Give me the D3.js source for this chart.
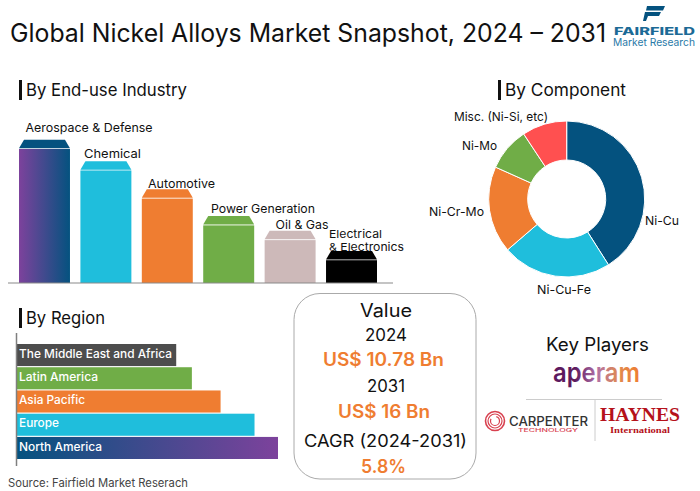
<!DOCTYPE html>
<html>
<head>
  <meta charset="utf-8">
  <script src="https://cdn.jsdelivr.net/npm/d3@7"></script>
  <style>
    html, body { margin: 0; padding: 0; background: #fff; }
    svg { display: block; }
    text { font-family: "Inter", "DejaVu Sans", sans-serif; fill: #111; }
  </style>
</head>
<body>
<script>
// chart values
var industries = ["Aerospace & Defense", "Chemical", "Automotive", "Power Generation", "Oil & Gas", "Electrical & Electronics"];
var industryValues = [100, 84, 63, 43, 32, 17];

var components = ["Ni-Cu", "Ni-Cu-Fe", "Ni-Cr-Mo", "Ni-Mo", "Misc. (Ni-Si, etc)"];
var componentValues = [41, 22.7, 18, 9, 9.3];

var regions = ["The Middle East and Africa", "Latin America", "Asia Pacific", "Europe", "North America"];
var regionValues = [61, 67, 78, 91, 100];

var width = 700, height = 491;
var navy = "#04527f", purple = "#7d429c", cyan = "#1fbedc", orange = "#ef7d31",
    green = "#70ad47", rose = "#cdb9b9", red = "#ff5050", slate = "#4d4d4d";

var svg = d3.select("body").append("svg")
  .attr("width", width)
  .attr("height", height);

var defs = svg.append("defs");
function gradient(id, stops) {
  var g = defs.append("linearGradient").attr("id", id);
  stops.forEach(function (s, i) {
    g.append("stop").attr("offset", i / (stops.length - 1)).attr("stop-color", s);
  });
}
gradient("purpleNavy", [purple, navy]);
gradient("navyPurple", [navy, purple]);
gradient("aperam", ["#5c1a5e", "#5c1a5e", "#b070a8", "#e08a50", "#ef7d31"]);

// text squeezed to the width it has in the picture
function label(str, x, y, w, size, opts) {
  opts = opts || {};
  return svg.append("text")
    .attr("x", x).attr("y", y)
    .attr("textLength", w)
    .attr("lengthAdjust", "spacingAndGlyphs")
    .style("font-size", size + "px")
    .style("font-weight", opts.weight || 400)
    .style("font-family", opts.family || null)
    .style("fill", opts.fill || null)
    .text(str);
}

// two stacked lines kept in one text element
function twoLines(a, b) {
  var t = svg.append("text");
  [a, b].forEach(function (l) {
    t.append("tspan")
      .attr("x", l.x).attr("y", l.y)
      .attr("textLength", l.w)
      .attr("lengthAdjust", "spacingAndGlyphs")
      .style("font-size", l.size + "px")
      .style("font-weight", l.weight || 400)
      .style("font-family", l.family || null)
      .style("fill", l.fill || null)
      .text(l.str);
  });
}

function heading(str, x, y, w) {
  svg.append("rect").attr("x", x).attr("y", y - 16).attr("width", 3).attr("height", 20).attr("fill", "#111");
  label(str, x + 7, y, w, 17);
}

label("Global Nickel Alloys Market Snapshot, 2024 \u2013 2031", 10, 42, 596, 25);

// logo, top right
svg.append("path")
  .attr("d", "M647 6H665L663 10.5H646ZM645 12H661L659 16H648L646 21H643Z")
  .attr("fill", navy);
twoLines(
  { str: "FAIRFIELD", x: 614, y: 35, w: 81, size: 10, weight: 800, fill: "#1c6a96" },
  { str: "Market Research", x: 613, y: 46, w: 82, size: 10.5, fill: "#2a7aa8" }
);

/* By End-use Industry */
heading("By End-use Industry", 19, 96, 161);

var x = d3.scaleBand().domain(industries).range([19, 377]).paddingInner(0.17).paddingOuter(0);
var y = d3.scaleLinear().domain([0, 100]).range([283, 149]);
var industryFill = ["url(#purpleNavy)", cyan, orange, green, rose, "#000"];
var capFill = [navy, cyan, orange, green, rose, "#000"];

svg.selectAll(".bar")
  .data(industries)
  .enter().append("rect")
  .attr("class", "bar")
  .attr("x", function (d) { return x(d); })
  .attr("y", function (d, i) { return y(industryValues[i]); })
  .attr("width", x.bandwidth())
  .attr("height", function (d, i) { return y(0) - y(industryValues[i]); })
  .attr("fill", function (d, i) { return industryFill[i]; });

// bevelled top of each bar
svg.selectAll(".cap")
  .data(industries)
  .enter().append("path")
  .attr("class", "cap")
  .attr("d", function (d, i) {
    var l = x(d), r = l + x.bandwidth(), b = y(industryValues[i]) - 0.8, t = b - 8.5;
    return "M" + l + " " + b + "L" + (l + 5) + " " + t + "H" + (r - 5) + "L" + r + " " + b + "Z";
  })
  .attr("fill", function (d, i) { return capFill[i]; });

svg.append("line").attr("x1", 8).attr("x2", 393).attr("y1", 283).attr("y2", 283)
  .attr("stroke", "#8a8a8a").attr("stroke-width", 1.2);

label(industries[0], 25.5, 132, 127, 12);
label(industries[1], 84, 158, 57, 12);
label(industries[2], 148, 188, 67, 12);
label(industries[3], 211, 213, 104, 12);
label(industries[4], 275.5, 229, 53, 12);
twoLines(
  { str: "Electrical", x: 329, y: 237.5, w: 53, size: 11 },
  { str: "& Electronics", x: 329, y: 251, w: 75, size: 11 }
);

/* By Component */
heading("By Component", 498, 96, 121);

var componentFill = [navy, cyan, orange, green, red];
var pie = d3.pie().sort(null);
var arc = d3.arc().innerRadius(39).outerRadius(78);

svg.append("g")
  .attr("transform", "translate(566.7,199)")
  .selectAll("path")
  .data(pie(componentValues))
  .enter().append("path")
  .attr("d", arc)
  .attr("fill", function (d, i) { return componentFill[i]; })
  .attr("stroke", "#fff")
  .attr("stroke-width", 1);

label(components[0], 645, 225, 34, 12);
label(components[1], 537, 294, 54, 12);
label(components[2], 429, 216, 55, 12);
label(components[3], 462, 150, 35, 12);
label(components[4], 454, 121, 94, 12);

/* By Region */
heading("By Region", 19, 324, 79);

var rx = d3.scaleLinear().domain([0, 100]).range([17, 278]);
var ry = d3.scaleBand().domain(regions).range([344, 459]).paddingInner(0.05);
var regionFill = [slate, green, orange, cyan, "url(#navyPurple)"];

svg.selectAll(".region")
  .data(regions)
  .enter().append("rect")
  .attr("class", "region")
  .attr("x", rx(0))
  .attr("y", function (d) { return ry(d); })
  .attr("width", function (d, i) { return rx(regionValues[i]) - rx(0); })
  .attr("height", ry.bandwidth())
  .attr("fill", function (d, i) { return regionFill[i]; });

svg.append("line").attr("x1", 16.5).attr("x2", 16.5).attr("y1", 333).attr("y2", 466)
  .attr("stroke", "#7f7f7f").attr("stroke-width", 1.5);

var white = { fill: "#fff", weight: 500 };
label(regions[0], 19, 358, 153, 12, white);
label(regions[1], 19, 381, 79, 12, white);
label(regions[2], 19, 404, 66, 12, white);
label(regions[3], 19, 427, 40, 12, white);
label(regions[4], 19, 451, 83, 12, white);

label("Source: Fairfield Market Reserach", 8, 487, 180, 11.5, { fill: "#444" });

/* Value panel */
svg.append("rect")
  .attr("x", 294).attr("y", 293.5).attr("width", 182).attr("height", 185.5)
  .attr("rx", 26).attr("fill", "#fff").attr("stroke", "#aaa");

var strong = { weight: 600, fill: orange };
label("Value", 360, 317, 52, 18);
label("2024", 365, 341, 42, 17);
label("US$ 10.78 Bn", 323, 366, 121, 18, strong);
label("2031", 367, 392, 38, 17);
label("US$ 16 Bn", 338, 418, 92, 18, strong);
label("CAGR (2024-2031)", 304, 447, 163, 17);
label("5.8%", 361, 473, 45, 18, strong);

/* Key players */
label("Key Players", 546, 351, 103, 18);
label("aperam", 553, 382, 87, 27, { weight: 600, fill: "url(#aperam)" });

svg.append("line").attr("x1", 526).attr("x2", 662).attr("y1", 399.5).attr("y2", 399.5).attr("stroke", "#ccc");
svg.append("line").attr("x1", 595).attr("x2", 595).attr("y1", 400).attr("y2", 441).attr("stroke", "#ccc");

// carpenter rings
[9.5, 7, 4.5].forEach(function (r, i) {
  svg.append("circle").attr("cx", 495).attr("cy", 421).attr("r", r)
    .attr("fill", "none").attr("stroke", "#d8404f").attr("stroke-width", i == 0 ? 1.6 : 1.2)
    .attr("stroke-dasharray", i == 2 ? "16 6" : null);
});
twoLines(
  { str: "CARPENTER", x: 509, y: 426, w: 79, size: 12.5, weight: 500, fill: "#333" },
  { str: "TECHNOLOGY", x: 518, y: 432, w: 60, size: 4.5, weight: 500, fill: "#d8404f" }
);

twoLines(
  { str: "HAYNES", x: 600, y: 421, w: 80, size: 19, weight: 700, family: "'Liberation Serif', serif", fill: "#b5121b" },
  { str: "International", x: 610, y: 432.5, w: 60, size: 8.5, weight: 700, family: "'Liberation Serif', serif", fill: "#b5121b" }
);
</script>
</body>
</html>
